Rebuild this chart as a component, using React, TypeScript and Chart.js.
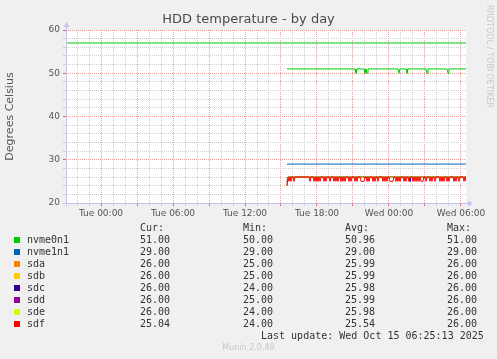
import React, { useEffect, useRef } from 'react';
import { Chart, registerables } from 'chart.js';

Chart.register(...registerables);

// ---- Data (hours relative to Tue 00:00) ----
const xMinHour = -2.9167; // Mon 21:05
const xMaxHour = 30.4167; // Wed 06:25
const xTickHours = [0, 6, 12, 18, 24, 30];
const xTickLabels = ['Tue 00:00', 'Tue 06:00', 'Tue 12:00', 'Tue 18:00', 'Wed 00:00', 'Wed 06:00'];
const yTickValues = [20, 30, 40, 50, 60];

const seriesNames = ['nvme0n1', 'nvme1n1', 'sda', 'sdb', 'sdc', 'sdd', 'sde', 'sdf'];
const seriesColors = ['#00cc00', '#0066b3', '#ff8000', '#ffcc00', '#330099', '#990099', '#ccff00', '#ff0000'];
const curValues = ['51.00', '29.00', '26.00', '26.00', '26.00', '26.00', '26.00', '25.04'];
const minValues = ['50.00', '29.00', '25.00', '25.00', '24.00', '25.00', '24.00', '24.00'];
const avgValues = ['50.96', '29.00', '25.99', '25.99', '25.98', '25.99', '25.98', '25.54'];
const maxValues = ['51.00', '29.00', '26.00', '26.00', '26.00', '26.00', '26.00', '26.00'];

const warningValue = 57;

const nvme0n1Hours = [15.5, 21.1667, 21.25, 21.3333, 21.9167, 22.0, 22.0833, 22.1667, 22.25, 24.75, 24.8333, 24.9167, 25.4167, 25.5, 25.5833, 27.0833, 27.1667, 27.25, 28.8333, 28.9167, 29.0, 30.4167];
const nvme0n1Temps = [51, 51, 50, 51, 51, 50, 51, 50, 51, 51, 50, 51, 51, 50, 51, 51, 50, 51, 51, 50, 51, 51];

const nvme1n1Hours = [15.5, 30.4167];
const nvme1n1Temps = [29, 29];

const sdaHours = [15.5, 15.5833, 30.4167];
const sdaTemps = [25, 26, 26];

const sdbHours = [15.5, 15.5833, 30.4167];
const sdbTemps = [25, 26, 26];

const sdcHours = [15.5, 15.5833, 25.6667, 25.75, 25.8333, 30.4167];
const sdcTemps = [24, 26, 26, 25, 26, 26];

const sddHours = [15.5, 15.5833, 30.4167];
const sddTemps = [25, 26, 26];

const sdeHours = [15.5, 15.5833, 30.4167];
const sdeTemps = [24, 26, 26];

// sdf: 5-minute samples starting Tue 15:30
const sdfStartHour = 15.5;
const sdfStepHours = 5 / 60;
const sdfTemps = [
  24, 26, 25, 26, 25, 26, 26, 25, 26, 26,
  26, 26, 26, 26, 26, 26, 26, 26, 26, 26,
  26, 26, 26, 25, 26, 26, 26, 25, 26, 25,
  26, 25, 26, 25, 26, 26, 26, 25, 26, 25,
  26, 26, 26, 25, 26, 26, 26, 25, 26, 25,
  26, 25, 26, 26, 25, 26, 25, 26, 25, 26,
  26, 26, 25, 26, 25, 26, 26, 26, 25, 26,
  25, 26, 26, 26, 25, 25, 25, 25, 26, 26,
  25, 26, 25, 26, 26, 26, 25, 26, 25, 26,
  26, 25, 26, 26, 26, 26, 25, 26, 25, 26,
  25, 26, 26, 25, 25, 25, 25, 26, 26, 25,
  26, 25, 26, 25, 26, 26, 26, 25, 26, 25,
  26, 26, 25, 26, 26, 26, 25, 26, 25, 26,
  25, 26, 25, 26, 25, 25, 25, 26, 26, 25,
  26, 26, 26, 25, 26, 25, 26, 26, 25, 26,
  26, 26, 26, 25, 26, 25, 26, 25, 26, 26,
  25, 26, 25, 26, 26, 26, 26, 25, 26, 25,
  26, 26, 25, 26, 26, 26, 26, 25, 26, 25.04,
];

const zip = (hs: number[], ts: number[]) => hs.map((h, i) => ({ x: h, y: ts[i] }));

const MAJOR_GRID = '#eb9a9a';
const MINOR_GRID = '#cfcfcf';
const AXIS_COLOR = '#c4c4ee';

const bgAndArrows = {
  id: 'bgAndArrows',
  beforeDraw(chart: any) {
    const { ctx, chartArea } = chart;
    ctx.save();
    ctx.fillStyle = '#ffffff';
    ctx.fillRect(chartArea.left, chartArea.top, chartArea.right - chartArea.left, chartArea.bottom - chartArea.top);
    ctx.restore();
  },
  afterDraw(chart: any) {
    const { ctx, chartArea } = chart;
    const l = Math.round(chartArea.left) + 0.5;
    const b = Math.round(chartArea.bottom) + 0.5;
    const t = chartArea.top;
    const r = chartArea.right;
    ctx.save();
    ctx.strokeStyle = AXIS_COLOR;
    ctx.fillStyle = AXIS_COLOR;
    ctx.lineWidth = 1;
    ctx.beginPath();
    ctx.moveTo(l - 4, b);
    ctx.lineTo(r + 3, b);
    ctx.moveTo(l, b + 3);
    ctx.lineTo(l, t - 3);
    ctx.stroke();
    ctx.beginPath();
    ctx.moveTo(r + 7, b);
    ctx.lineTo(r + 2, b - 3);
    ctx.lineTo(r + 2, b + 3);
    ctx.closePath();
    ctx.fill();
    ctx.beginPath();
    ctx.moveTo(l, t - 8);
    ctx.lineTo(l - 3, t - 3);
    ctx.lineTo(l + 3, t - 3);
    ctx.closePath();
    ctx.fill();
    ctx.restore();
  },
};

export default function App() {
  const canvasRef = useRef<HTMLCanvasElement | null>(null);

  useEffect(() => {
    const canvas = canvasRef.current;
    if (!canvas) return;
    Chart.defaults.font.family = "'DejaVu Sans'";
    const seriesData = [
      zip(nvme0n1Hours, nvme0n1Temps),
      zip(nvme1n1Hours, nvme1n1Temps),
      zip(sdaHours, sdaTemps),
      zip(sdbHours, sdbTemps),
      zip(sdcHours, sdcTemps),
      zip(sddHours, sddTemps),
      zip(sdeHours, sdeTemps),
      sdfTemps.map((v, i) => ({ x: sdfStartHour + i * sdfStepHours, y: v })),
    ];
    const datasets: any[] = seriesNames.map((name, i) => ({
      label: name,
      data: seriesData[i],
      borderColor: seriesColors[i],
      backgroundColor: seriesColors[i],
      borderWidth: 1,
      pointRadius: 0,
      tension: 0,
      fill: false,
      order: 10 - i,
    }));
    datasets.push({
      label: 'warning',
      data: [{ x: xMinHour, y: warningValue }, { x: xMaxHour, y: warningValue }],
      borderColor: '#00cc00',
      borderWidth: 1,
      pointRadius: 0,
      fill: false,
      order: 20,
    });

    const hourTicks: number[] = [];
    for (let h = Math.ceil(xMinHour); h <= Math.floor(xMaxHour); h++) hourTicks.push(h);

    const chart = new Chart(canvas, {
      type: 'line',
      data: { datasets },
      plugins: [bgAndArrows],
      options: {
        animation: false,
        responsive: false,
        maintainAspectRatio: false,
        events: [],
        layout: { padding: { left: 0, right: 0, top: 0, bottom: 126 } },
        plugins: {
          legend: { display: false },
          tooltip: { enabled: false },
          title: {
            display: true,
            text: 'HDD temperature - by day',
            color: '#4a4a4a',
            font: { size: 13, weight: 'normal', family: "'DejaVu Sans'" },
            padding: { top: 12, bottom: 2.4 },
          },
        },
        scales: {
          x: {
            type: 'linear',
            min: xMinHour,
            max: xMaxHour,
            afterBuildTicks: (scale: any) => {
              scale.ticks = hourTicks.map((v) => ({ value: v }));
            },
            afterFit: (scale: any) => {
              scale.height = 30;
            },
            ticks: {
              autoSkip: false,
              maxRotation: 0,
              minRotation: 0,
              padding: 2,
              color: '#555',
              font: { size: 9 },
              callback: (v: any) => {
                const idx = xTickHours.indexOf(Math.round(Number(v)));
                return idx >= 0 ? xTickLabels[idx] : '';
              },
            },
            grid: {
              color: (ctx: any) => (ctx.tick && Math.round(ctx.tick.value) % 3 === 0 ? MAJOR_GRID : MINOR_GRID),
              tickColor: (ctx: any) => (ctx.tick && Math.round(ctx.tick.value) % 3 === 0 ? '#e06060' : '#cccccc'),
              tickLength: 3,
              lineWidth: 1,
            },
            border: { display: false, dash: [1, 1] },
          },
          y: {
            type: 'linear',
            min: 20,
            max: 60,
            afterFit: (scale: any) => {
              scale.width = 66;
            },
            ticks: {
              stepSize: 2,
              autoSkip: false,
              padding: 3,
              color: '#555',
              font: { size: 9 },
              callback: (v: any) => (yTickValues.includes(Number(v)) ? String(v) : ''),
            },
            title: {
              display: true,
              text: 'Degrees Celsius',
              color: '#555',
              font: { size: 11 },
              padding: { top: 4, bottom: 0 },
            },
            grid: {
              color: (ctx: any) => (ctx.tick && yTickValues.includes(ctx.tick.value) ? MAJOR_GRID : MINOR_GRID),
              tickColor: (ctx: any) => (ctx.tick && yTickValues.includes(ctx.tick.value) ? '#e06060' : '#cccccc'),
              tickLength: 3,
              lineWidth: 1,
            },
            border: { display: false, dash: [1, 1] },
          },
          yRight: {
            type: 'linear',
            position: 'right',
            display: true,
            min: 20,
            max: 60,
            afterFit: (scale: any) => {
              scale.width = 31;
            },
            ticks: { display: false },
            grid: { display: false, drawOnChartArea: false, drawTicks: false },
            border: { display: false },
          },
        },
      } as any,
    });
    return () => chart.destroy();
  }, []);

  const mono = "'DejaVu Sans Mono', monospace";
  const rowTop = (i: number) => 234 + 12 * i;
  const textStyle = (left: number, top: number): React.CSSProperties => ({
    position: 'absolute',
    left,
    top,
    fontFamily: mono,
    fontSize: 10,
    lineHeight: '12px',
    color: '#333',
    whiteSpace: 'pre',
  });

  return (
    <div style={{ position: 'fixed', left: 0, top: 0, width: 497, height: 359, background: '#f0f0f0', overflow: 'hidden' }}>
      <canvas ref={canvasRef} width={497} height={359} style={{ position: 'absolute', left: 0, top: 0, width: 497, height: 359 }} />
      <div style={{ position: 'absolute', left: 484, top: 5, writingMode: 'vertical-rl', fontFamily: "'DejaVu Sans'", fontSize: 8, lineHeight: '10px', color: '#c8c8c8', whiteSpace: 'nowrap' }}>
        RRDTOOL / TOBI OETIKER
      </div>
      <div style={textStyle(140, 222)}>Cur:</div>
      <div style={textStyle(243, 222)}>Min:</div>
      <div style={textStyle(345, 222)}>Avg:</div>
      <div style={textStyle(447, 222)}>Max:</div>
      {seriesNames.map((name, i) => (
        <React.Fragment key={name}>
          <div style={{ position: 'absolute', left: 14, top: rowTop(i) + 3, width: 6, height: 6, background: seriesColors[i] }} />
          <div style={textStyle(27, rowTop(i))}>{name}</div>
          <div style={textStyle(140, rowTop(i))}>{curValues[i]}</div>
          <div style={textStyle(243, rowTop(i))}>{minValues[i]}</div>
          <div style={textStyle(345, rowTop(i))}>{avgValues[i]}</div>
          <div style={textStyle(447, rowTop(i))}>{maxValues[i]}</div>
        </React.Fragment>
      ))}
      <div style={textStyle(261, rowTop(8))}>Last update: Wed Oct 15 06:25:13 2025</div>
      <div style={{ position: 'absolute', left: 0, width: 497, top: 343, textAlign: 'center', fontFamily: "'DejaVu Sans'", fontSize: 8, lineHeight: '10px', color: '#c8c8c8' }}>
        Munin 2.0.49
      </div>
    </div>
  );
}
